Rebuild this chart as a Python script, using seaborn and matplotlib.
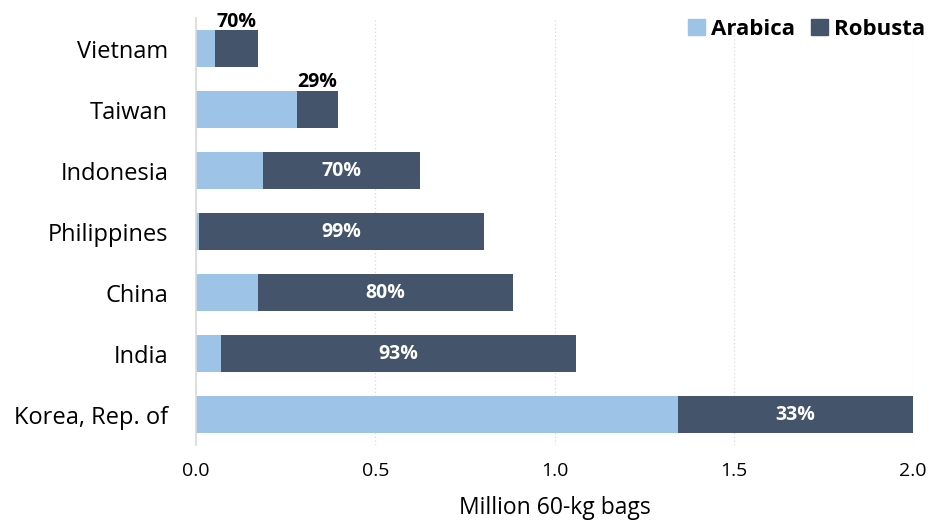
import matplotlib
matplotlib.use("Agg")
import pandas as pd
import matplotlib.pyplot as plt
import seaborn as sns
from matplotlib.patches import Patch

# coffee consumption by type, million 60-kg bags
countries = ["Vietnam", "Taiwan", "Indonesia", "Philippines", "China", "India", "Korea, Rep. of"]
arabica = [0.052, 0.282, 0.187, 0.008, 0.173, 0.070, 1.344]
robusta = [0.121, 0.114, 0.438, 0.795, 0.711, 0.990, 0.656]
share_labels = ["70%", "29%", "70%", "99%", "80%", "93%", "33%"]
outside_label = ["Vietnam", "Taiwan"]

ARABICA_COLOR = "#9DC3E6"
ROBUSTA_COLOR = "#44546A"

sns.set_theme(style="white")
plt.rcParams["font.family"] = ["Open Sans", "DejaVu Sans"]
plt.rcParams["text.color"] = "black"
plt.rcParams["axes.labelcolor"] = "black"
plt.rcParams["xtick.color"] = "black"
plt.rcParams["ytick.color"] = "black"

df = pd.DataFrame({"country": countries, "arabica": arabica, "robusta": robusta})
df["total"] = df["arabica"] + df["robusta"]

fig = plt.figure(figsize=(9.31, 5.32), dpi=100)
ax = fig.add_axes([0.2105, 0.1635, 0.7702, 0.8025])

sns.barplot(data=df, x="total", y="country", color=ROBUSTA_COLOR, orient="h",
            width=0.6, saturation=1, linewidth=0, ax=ax)
sns.barplot(data=df, x="arabica", y="country", color=ARABICA_COLOR, orient="h",
            width=0.6, saturation=1, linewidth=0, ax=ax)

for i, row in df.iterrows():
    xc = row["arabica"] + row["robusta"] / 2
    if row["country"] in outside_label:
        ax.text(xc, i - 0.28, share_labels[i], ha="center", va="bottom",
                fontsize=14, fontweight="bold", color="black")
    else:
        ax.text(xc, i, share_labels[i], ha="center", va="center",
                fontsize=14, fontweight="bold", color="white")

ax.set_xlim(0, 2.0)
ax.set_ylim(6.5, -0.5)
ax.set_xticks([0, 0.5, 1.0, 1.5, 2.0])
ax.set_xticklabels(["0.0", "0.5", "1.0", "1.5", "2.0"], fontsize=14)
ax.tick_params(axis="y", labelsize=17, length=0, pad=20)
ax.tick_params(axis="x", length=0, pad=12)
ax.set_ylabel("")
ax.set_xlabel("Million 60-kg bags", fontsize=16.5, labelpad=12)

ax.grid(axis="x", linestyle=(0, (1, 2)), color="#D9D9D9", linewidth=0.9)
ax.set_axisbelow(True)
for side in ["top", "right", "bottom"]:
    ax.spines[side].set_visible(False)
ax.spines["left"].set_color("#D9D9D9")
ax.spines["left"].set_linewidth(1.2)

handles = [Patch(color=ARABICA_COLOR, label="Arabica"),
           Patch(color=ROBUSTA_COLOR, label="Robusta")]
leg = ax.legend(handles=handles, loc="upper right", bbox_to_anchor=(1.045, 1.045),
                ncol=2, frameon=False, handlelength=0.75, handleheight=0.75,
                handletextpad=0.3, columnspacing=0.7,
                prop={"size": 16, "weight": "bold"})

fig.savefig("out.png", dpi=100)
